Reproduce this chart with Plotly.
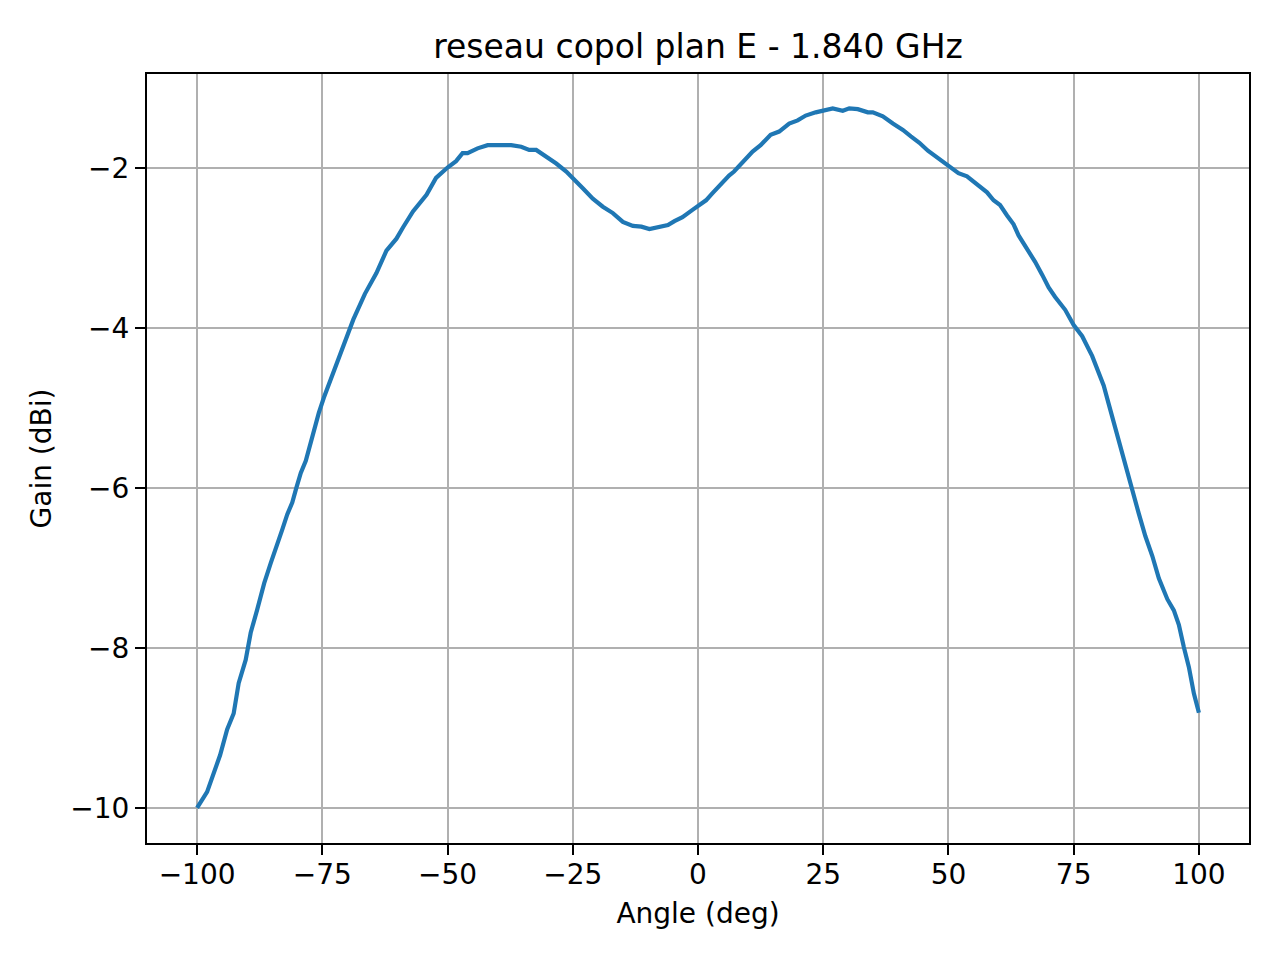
import plotly.graph_objects as go

angle = [-100, -98, -95.4, -94, -92.7, -91.7,
         -90.3, -89.3, -88.0, -86.6, -85.3, -84.0, -83.0, -82.0, -81.0, -80.2, -79.3,
         -78.3, -77.7, -76.7, -75.7, -74.7, -73.3, -72.3, -71.3, -70.3,
         -68.8, -66.5, -64.2, -62.2,
         -60.2, -58.9, -56.9, -54.2, -52.3, -50, -48.3, -47.0, -46.0, -44.0, -42.0,
         -39.7, -37.3, -35.3, -33.7, -32.3, -30.3, -28.3, -26.3, -25, -23.0, -21.0,
         -19.0, -17.0, -15.0, -13.0, -11.3, -9.7, -8.0, -6.0, -4.7, -3.1, -1.1, 0,
         1.6, 2.9, 4.3, 6.2, 7.2, 8.9, 10.9, 12.5, 14.5, 16.2, 18.2, 19.9, 21.5,
         23.5, 25, 26.9, 28.9, 30.2, 31.9, 33.9, 34.9, 36.9, 38.9, 40.9, 42.5, 44.2,
         45.9, 47.5, 50, 52, 53.7, 55.7, 57.7, 59, 60.3, 61.7, 63, 64, 66, 67.3,
         68.7, 70, 71.3, 73.3, 75, 76.7, 78.7, 80, 81, 82, 83, 84, 85.3, 86.7, 88,
         89.3, 90.7, 92, 93.7, 95, 96, 97, 98, 99, 100]
gain = [-10.0, -9.80, -9.34, -9.02, -8.82, -8.44,
        -8.15, -7.81, -7.52, -7.19, -6.94, -6.68, -6.52, -6.33, -6.18, -6.00, -5.81,
        -5.66, -5.52, -5.27, -5.06, -4.87, -4.64, -4.47, -4.30, -4.14,
        -3.89, -3.57, -3.31, -3.03,
        -2.88, -2.74, -2.54, -2.33, -2.12, -1.99, -1.91, -1.81, -1.81, -1.75, -1.71,
        -1.71, -1.71, -1.73, -1.77, -1.77, -1.85, -1.94, -2.04, -2.13, -2.25, -2.38,
        -2.48, -2.56, -2.67, -2.72, -2.73, -2.76, -2.74, -2.71, -2.66, -2.61, -2.52, -2.47,
        -2.40, -2.31, -2.21, -2.09, -2.04, -1.92, -1.79, -1.71, -1.58, -1.54, -1.44, -1.40, -1.34,
        -1.30, -1.28, -1.25, -1.28, -1.25, -1.26, -1.30, -1.30, -1.35, -1.44, -1.52, -1.60, -1.68,
        -1.78, -1.85, -1.96, -2.06, -2.10, -2.20, -2.30, -2.40, -2.46, -2.59, -2.70, -2.84, -3.03, -3.17,
        -3.33, -3.49, -3.61, -3.77, -3.96, -4.10, -4.35, -4.58, -4.72, -4.95, -5.18, -5.42, -5.74, -6.02, -6.32,
        -6.60, -6.85, -7.13, -7.39, -7.53, -7.71, -7.99, -8.24, -8.57, -8.81]

title_text = "reseau copol plan E - 1.840 GHz"
x_label = "Angle (deg)"
y_label = "Gain (dBi)"

font = "DejaVu Sans"

fig = go.Figure(go.Scatter(x=angle, y=gain, mode="lines",
                           line=dict(color="#1f77b4", width=4.2)))

axis_common = dict(showline=True, linecolor="black", linewidth=2.2, mirror=True,
                   ticks="outside", ticklen=10, tickwidth=2.2, tickcolor="black",
                   showgrid=True, gridcolor="#b0b0b0", gridwidth=2.2,
                   zeroline=False, tickfont=dict(family=font, size=28, color="black"),
                   automargin=False)

fig.update_layout(
    width=1280, height=960,
    paper_bgcolor="white", plot_bgcolor="white",
    margin=dict(l=139, r=39, t=66, b=125),
    showlegend=False,
    title=dict(text=title_text, x=0.5, xanchor="center", y=1 - 38 / 960, yanchor="middle",
               xref="paper", font=dict(family=font, size=33, color="black")),
    xaxis=dict(range=[-110, 110], tick0=-100, dtick=25, ticklabelstandoff=-5,
               title=dict(text=x_label, font=dict(family=font, size=28, color="black"), standoff=14),
               **axis_common),
    yaxis=dict(range=[-10.44, -0.82], tick0=-10, dtick=2,
               title=dict(text=y_label, font=dict(family=font, size=28, color="black"), standoff=10),
               **axis_common),
)

fig.write_html("out.html")
